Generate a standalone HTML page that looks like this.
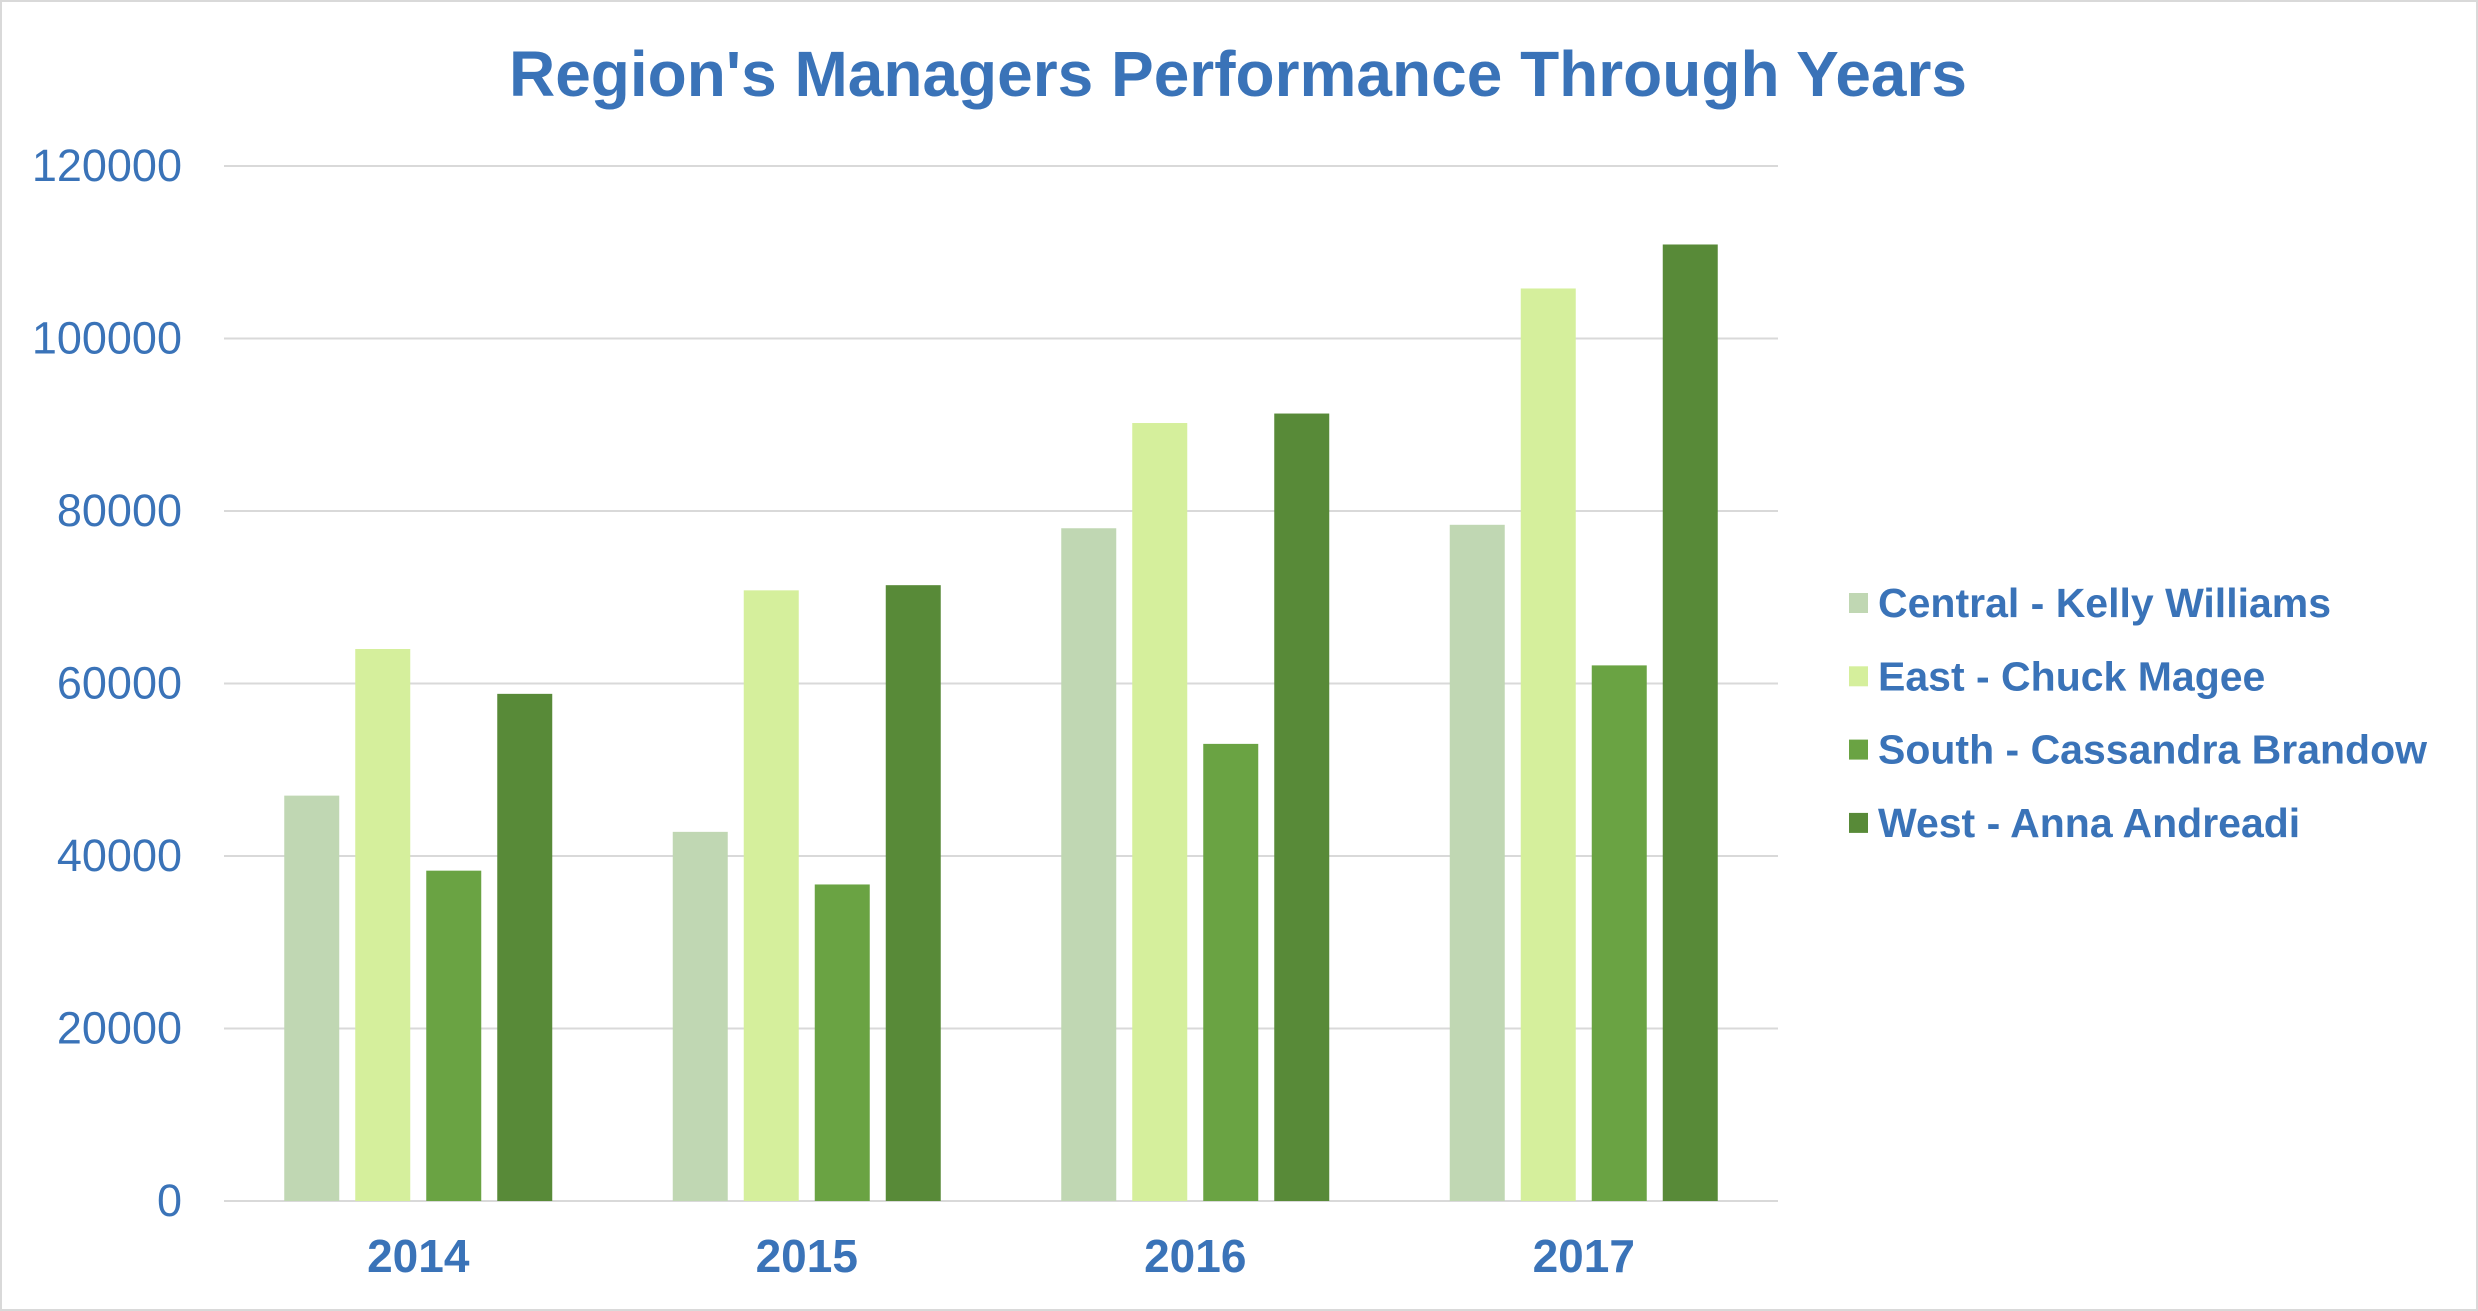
<!DOCTYPE html>
<html><head><meta charset="utf-8"><style>
body{margin:0;background:#fff;}
svg{display:block;font-family:"Liberation Sans",Arial,sans-serif;}
</style></head><body>
<svg id="chart" width="2478" height="1311" viewBox="0 0 2478 1311" xmlns="http://www.w3.org/2000/svg">
<rect x="1" y="1" width="2476" height="1309" fill="#fff" stroke="#d9d9d9" stroke-width="2"/>
<text x="1238" y="96" text-anchor="middle" font-size="64" font-weight="bold" fill="#3a73b8">Region's Managers Performance Through Years</text>
<g id="grid"></g><g id="bars"></g><g id="labels"></g><g id="legend"></g>
</svg>
<script>
const categories=["2014","2015","2016","2017"];
const seriesNames=["Central - Kelly Williams","East - Chuck Magee","South - Cassandra Brandow","West - Anna Andreadi"];
const central=[47000,42800,78000,78400];
const east=[64000,70800,90200,105800];
const south=[38300,36700,53000,62100];
const west=[58800,71400,91300,110900];
const yTicks=[0,20000,40000,60000,80000,100000,120000];
const colors=["#c0d7b3","#d5ef9c","#6aa343","#588a38"];
const series=[central,east,south,west];
const NS="http://www.w3.org/2000/svg";
const L=224,R=1778,Y0=1201,Y1=166,yMax=120000;
const y=v=>Y0-(v/yMax)*(Y0-Y1);
const cw=(R-L)/categories.length;
const x=(ci,si)=>L+ci*cw+cw/2-134+si*71;
function mk(t,a,p){const e=document.createElementNS(NS,t);for(const k in a)e.setAttribute(k,a[k]);p.appendChild(e);return e;}
const grid=document.getElementById('grid'),bars=document.getElementById('bars'),labels=document.getElementById('labels'),legend=document.getElementById('legend');
yTicks.forEach(t=>{
  const l=mk('line',{x1:L,x2:R,y1:y(t),y2:y(t),stroke:'#d9d9d9','stroke-width':2},grid);
  
  
  const tx=mk('text',{x:182,y:y(t)+15,'text-anchor':'end','font-size':45,fill:'#3a73b8'},labels);
  tx.textContent=t;
  
  
});
categories.forEach((c,ci)=>{
  series.forEach((s,si)=>{
    const r=mk('rect',{x:x(ci,si),y:y(s[ci]),width:55,height:Y0-y(s[ci]),fill:colors[si]},bars);
    
    
  });
  const tx=mk('text',{x:L+ci*cw+cw/2,y:1272,'text-anchor':'middle','font-size':46,'font-weight':'bold',fill:'#3a73b8'},labels);
  tx.textContent=c;
  
  
});
seriesNames.forEach((n,i)=>{
  const cy=603+i*73.3;
  const sq=mk('rect',{x:1849,y:cy-10,width:19,height:20,fill:colors[i]},legend);
  
  
  const tx=mk('text',{x:1878,y:cy+14,'font-size':41,'font-weight':'bold',fill:'#3a73b8'},legend);
  tx.textContent=n;
  
  
});
</script>
</body></html>
